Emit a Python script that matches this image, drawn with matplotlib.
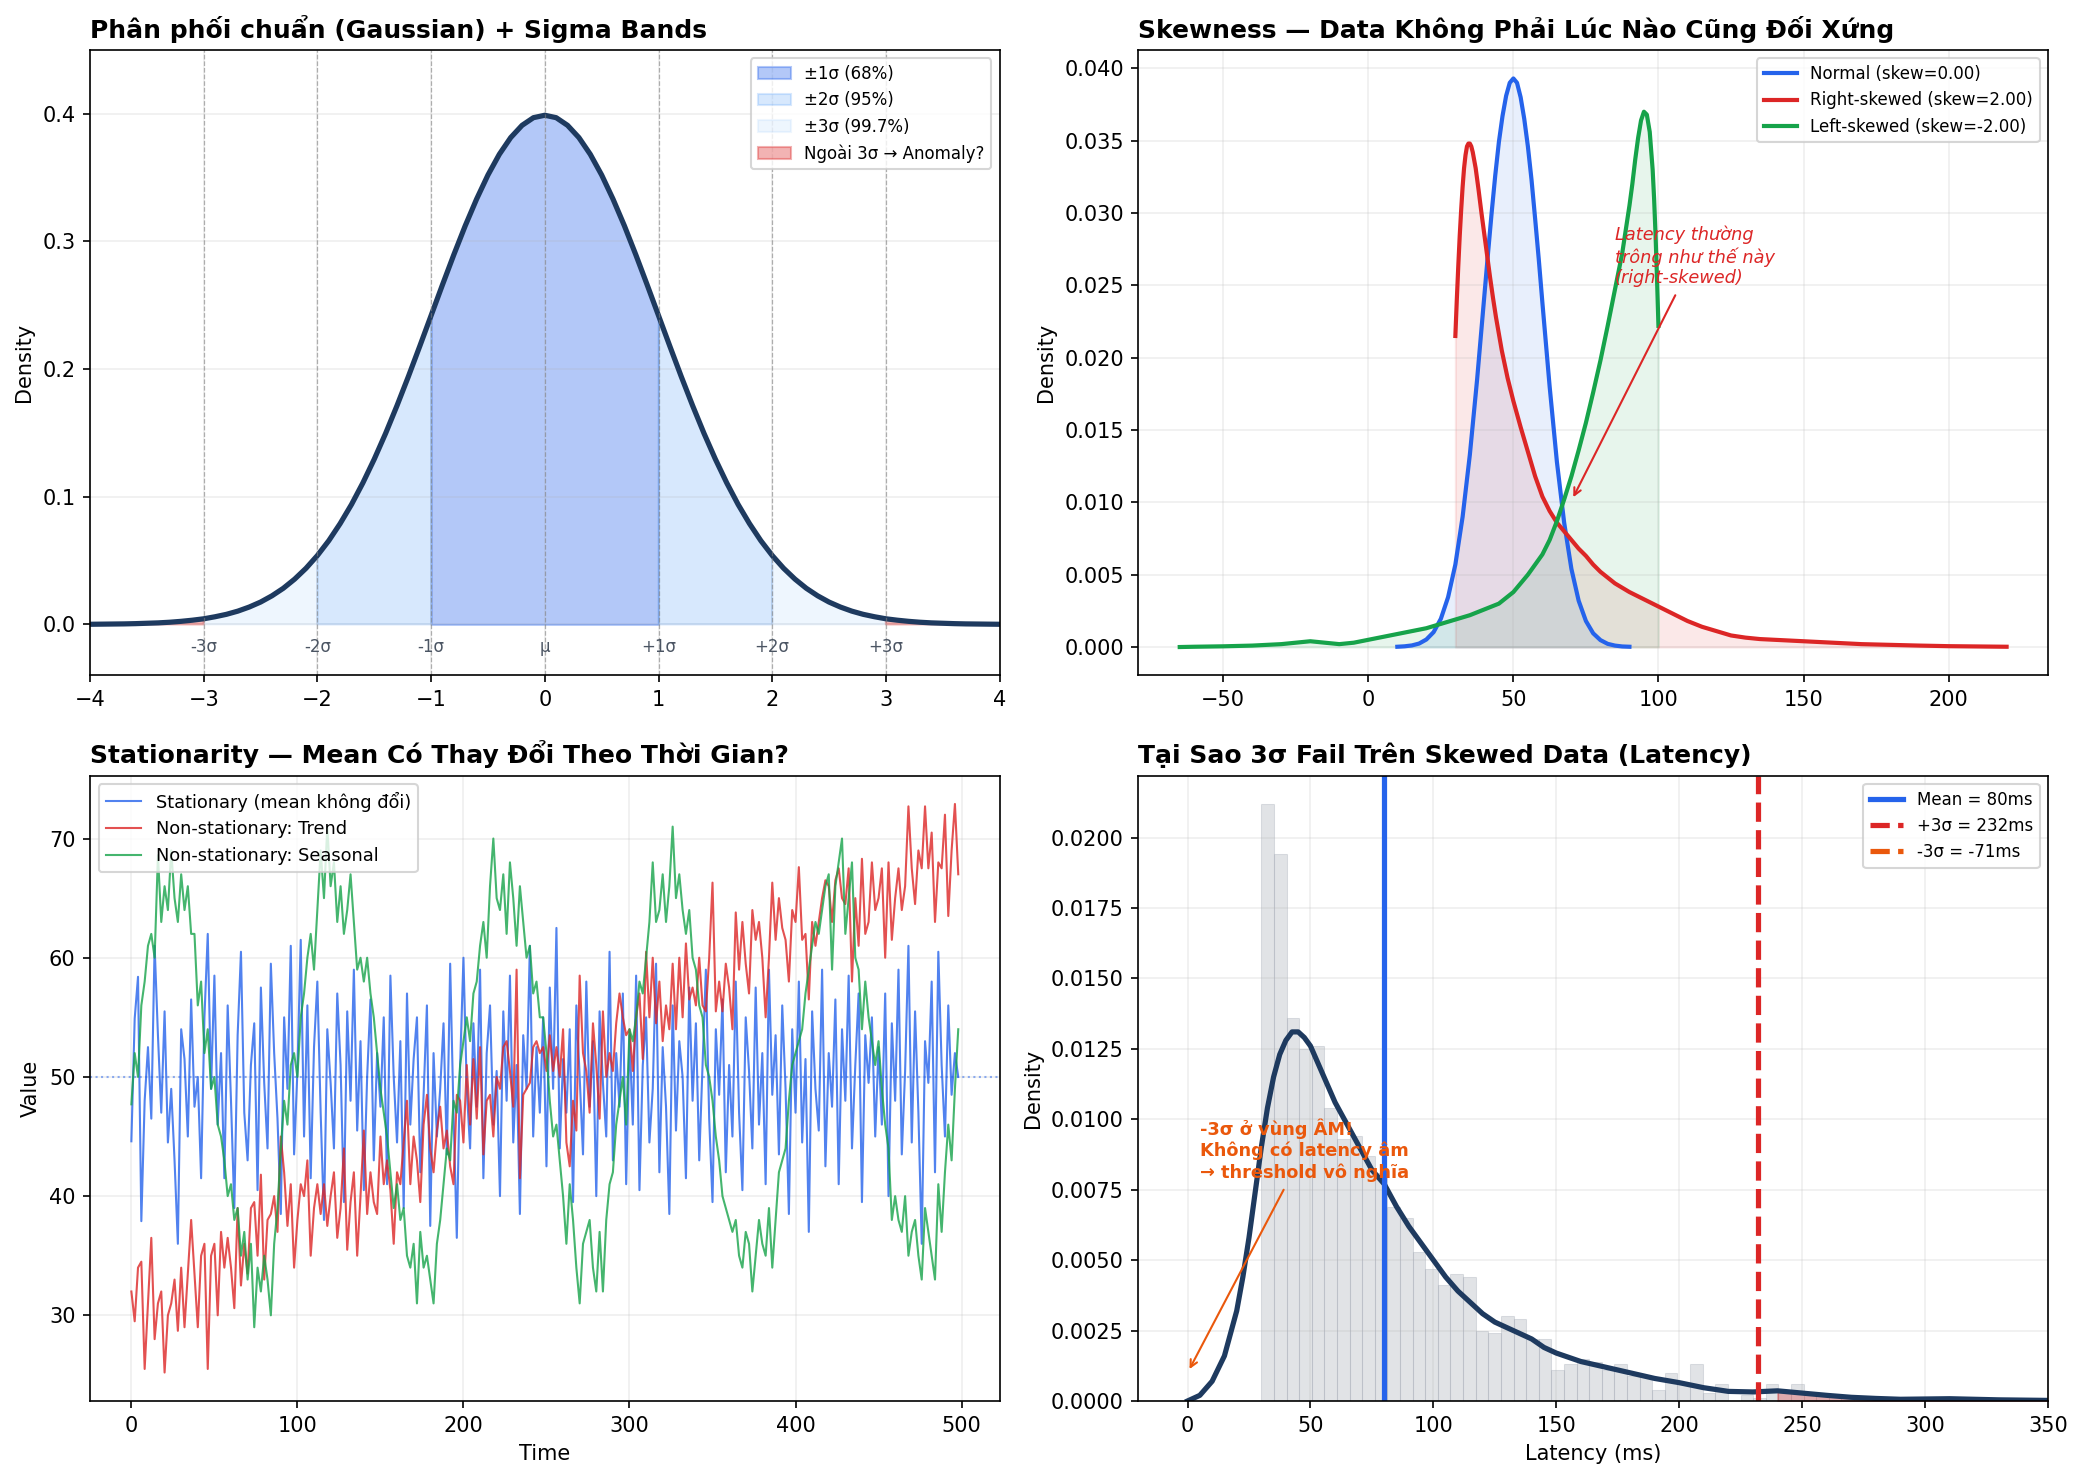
import numpy as np
import matplotlib
matplotlib.use("Agg")
import matplotlib.pyplot as plt

# ---------------- data ----------------
# panel 1: standard normal density, x = -4..4 step 0.1 (right half, mirrored)
gauss_half = [0.3989, 0.3970, 0.3910, 0.3814, 0.3683, 0.3521, 0.3332, 0.3123, 0.2897, 0.2661,
              0.2420, 0.2179, 0.1942, 0.1714, 0.1497, 0.1295, 0.1109, 0.0940, 0.0790, 0.0656,
              0.0540, 0.0440, 0.0355, 0.0283, 0.0224, 0.0175, 0.0136, 0.0104, 0.0079, 0.0060,
              0.0044, 0.0033, 0.0024, 0.0017, 0.0012, 0.0009, 0.0006, 0.0004, 0.0003, 0.0002,
              0.0001]
sigma_labels = ['-3σ', '-2σ', '-1σ', 'μ', '+1σ', '+2σ', '+3σ']
sigma_pos = [-3, -2, -1, 0, 1, 2, 3]

# panel 2: KDE curves
norm_x = [10, 12.5, 15, 17.5, 20, 22.5, 25, 27.5, 30, 32.5, 35, 37.5, 40, 41.25, 42.5, 43.75,
          45, 46.25, 47.5, 48.75, 50, 51.25, 52.5, 53.75, 55, 56.25, 57.5, 58.75, 60, 62.5, 65,
          67.5, 70, 72.5, 75, 77.5, 80, 82.5, 85, 87.5, 90]
norm_y = [0.00002, 0.00005, 0.00011, 0.00024, 0.00052, 0.00103, 0.00195, 0.00345, 0.0057, 0.0090,
          0.0133, 0.0185, 0.0243, 0.0272, 0.0300, 0.0326, 0.0349, 0.0367, 0.0381, 0.0390, 0.0393,
          0.0390, 0.0380, 0.0365, 0.0346, 0.0323, 0.0296, 0.0268, 0.0238, 0.0180, 0.0128,
          0.0086, 0.0054, 0.0032, 0.0018, 0.00095, 0.00048, 0.00022, 0.0001, 0.00004, 0.00002]
right_x = [30, 30.5, 31, 31.5, 32, 32.5, 33, 33.5, 34, 34.5, 35, 35.5, 36, 37, 38, 39, 40, 41, 42,
           43, 44, 46, 48, 50, 52.5, 55, 57.5, 60, 62.5, 65, 67.5, 70, 72.5, 75, 77.5, 80, 82.5,
           85, 87.5, 90, 95, 100, 105, 110, 115, 120, 125, 130, 135, 140, 145, 150, 160, 170,
           180, 190, 200, 210, 220]
right_y = [0.0215, 0.0240, 0.0263, 0.0284, 0.0302, 0.0318, 0.0331, 0.0340, 0.0346, 0.0348,
           0.0348, 0.0346, 0.0342, 0.0331, 0.0316, 0.0300, 0.0285, 0.0270, 0.0255, 0.0241,
           0.0228, 0.0205, 0.0186, 0.0170, 0.0152, 0.0135, 0.0118, 0.0104, 0.0094, 0.0086,
           0.0080, 0.0074, 0.0068, 0.0063, 0.0057, 0.0052, 0.0048, 0.0044, 0.0041, 0.0038,
           0.0033, 0.0028, 0.0023, 0.0018, 0.0014, 0.0011, 0.0008, 0.00065, 0.00055, 0.0005,
           0.00045, 0.0004, 0.0003, 0.0002, 0.00015, 0.0001, 0.00006, 0.00004, 0.00002]
left_x = [-65, -60, -50, -40, -30, -20, -15, -10, -5, 0, 5, 10, 15, 20, 25, 30, 35, 40, 45, 50,
          55, 60, 62.5, 65, 67.5, 70, 72.5, 75, 77.5, 80, 82.5, 85, 87.5, 90, 91, 92, 93, 94, 95,
          96, 97, 98, 98.5, 99, 99.5, 100]
left_y = [0.0, 0.00002, 0.00005, 0.0001, 0.0002, 0.0004, 0.0003, 0.0002, 0.0003, 0.0005, 0.0007,
          0.0009, 0.0011, 0.0013, 0.0016, 0.0019, 0.0022, 0.0026, 0.0030, 0.0038, 0.0050, 0.0064,
          0.0074, 0.0087, 0.0102, 0.0118, 0.0136, 0.0155, 0.0176, 0.0198, 0.0222, 0.0247, 0.0272,
          0.0305, 0.0320, 0.0337, 0.0352, 0.0364, 0.0370, 0.0368, 0.0356, 0.0330, 0.0310, 0.0285,
          0.0255, 0.0222]

# panel 3: time series, sampled every 2 steps
t = np.arange(0, 500, 2)
stationary = [
    44.6, 54.9, 58.4, 37.9, 48, 52.5, 46.5, 61, 53.5, 47, 55.5, 44.5, 49, 43, 36, 54, 51.5, 45, 56.5, 47.5, 50, 41.5, 55, 62, 49,
    58.5, 46, 52, 41.5, 56, 48, 39, 53.5, 60.5, 47, 43, 51, 54.5, 40.5, 57.5, 49.5, 44, 59.5, 52, 46.5, 38.5, 55, 49, 61, 43.5,
    50.5, 61.5, 45, 56, 41.5, 52.5, 58, 47, 38, 54, 49.5, 44, 57, 51, 39.5, 55.5, 48, 59, 45.5, 53, 40.5, 50, 56.5, 43, 52,
    47.5, 55, 41, 58.5, 50, 44.5, 53, 39, 57, 46, 51.5, 55, 42, 48.5, 56, 37.5, 52, 45, 49, 54.5, 43.5, 59.5, 47, 36.5, 51,
    60, 49, 44, 54.5, 47.5, 59, 41.5, 52, 56, 46, 50.5, 40, 55.5, 48, 58.5, 44.5, 51, 38.5, 53.5, 49, 61, 45, 52.5, 47, 55,
    42.5, 57.5, 49, 62.5, 44, 51.5, 47, 54, 39.5, 56, 50, 43.5, 58, 47.5, 53, 40, 55.5, 49.5, 45, 60.5, 43, 52, 47.5, 57, 41,
    53.5, 46, 58.5, 40.5, 51, 55, 44.5, 49, 59.5, 42, 52.5, 47.5, 38.5, 56, 45.5, 53, 50, 41.5, 57.5, 48, 54.5, 43, 51, 59, 46.5,
    39.5, 54, 48.5, 56.5, 42, 51, 45, 58, 47, 40.5, 55, 50.5, 44, 57.5, 46, 52, 41, 59, 48.5, 53.5, 43.5, 56, 49, 38.5, 54,
    47, 58, 44.5, 51.5, 37, 55.5, 49, 45.5, 59, 42.5, 52, 47.5, 56.5, 41, 54, 48, 58.5, 44, 51, 57, 39.5, 53.5, 49.5, 55, 45,
    52.5, 46, 57, 40, 54.5, 48, 59, 43.5, 50.5, 61, 44.5, 55.5, 47, 36, 53, 49.5, 58, 42, 60.5, 51, 45, 56, 48.5, 52, 50]
trend = [
    32, 29.5, 34, 34.5, 25.5, 31, 36.5, 28, 31, 32, 25.2, 30, 31, 33, 28.7, 34, 29, 33.5, 38, 33.5, 29, 35, 36, 25.5, 35,
    36, 30, 37, 34, 36.5, 34, 30.6, 39, 32.5, 36, 33.5, 39, 39.5, 35, 41.8, 33, 38, 38.5, 40, 37, 45, 42, 37.5, 41, 34,
    38, 41, 40, 43, 35, 39, 41, 38.5, 41, 37.5, 40, 42, 36.5, 39, 44, 35.5, 39.5, 42, 35, 40, 45.5, 38.5, 42, 39.5, 38.5,
    45, 41, 43, 40.5, 36, 42, 41, 44.5, 48, 41, 45, 43, 39.5, 46, 48.5, 44, 42, 45.5, 47.5, 44, 45.5, 42.5, 41, 48.5, 48,
    44.5, 51, 46, 51.5, 46.5, 52.5, 43.5, 48, 48.5, 45, 50, 49, 52.5, 53, 50.5, 47.5, 59, 41.5, 48.5, 49, 49.5, 52.5, 53, 52, 52.5,
    50.5, 53.5, 50.5, 52.5, 50, 54, 44.5, 42.5, 48, 45.5, 58.5, 52, 50.5, 47, 54.5, 51, 46.5, 55.5, 50, 52, 50.5, 54.5, 57, 55, 53.5,
    54, 50.5, 55, 57, 51.5, 60.5, 55, 60, 54.5, 58, 53, 56, 54, 59.5, 54, 60, 55, 61.2, 56.5, 57.5, 56, 60, 56, 55.5, 60,
    66.3, 55.5, 58, 55.5, 59.5, 57.5, 54, 63.8, 59, 63, 59.5, 57, 64, 61.5, 63, 60, 55, 60, 66.3, 61.5, 65, 62.5, 61.5, 58, 64,
    63, 67.6, 61.5, 62, 56.5, 63, 61, 63, 65, 66.5, 66, 63, 66.5, 67.5, 65, 64.5, 67.5, 58, 65, 61, 68.3, 62, 63, 68, 64,
    65, 67.5, 60, 68, 61.5, 65, 67.5, 64, 66, 72.7, 67.5, 64.5, 69, 67.5, 72.7, 67.5, 70.5, 63, 68, 67.5, 72, 63.5, 69, 72.9, 67]
seasonal = [
    47.7, 52, 50, 56, 58, 61, 62, 60, 68.6, 63, 66, 64, 69, 65, 63, 67, 64, 66, 62, 62, 56, 58, 52, 54, 49,
    50, 46, 45, 43, 40, 41, 38, 39, 35, 37, 33, 36, 29, 34, 32, 35, 33, 30, 36, 39, 44, 48, 46, 51, 52,
    50, 55, 57, 60, 62, 59, 64, 69, 65, 71, 66, 68, 63, 66, 62, 64, 67, 63, 59, 60, 58, 60, 57, 55, 52,
    49, 47, 45, 42, 39, 41, 38, 39, 35, 34, 36, 31, 37, 34, 35, 33, 31, 36, 38, 41, 44, 43, 48, 47, 51,
    53, 55, 53, 57, 58, 61, 63, 60, 66, 70, 65, 64, 67, 62, 68, 65, 61, 66, 63, 60, 61, 57, 58, 55, 55,
    52, 48, 45, 46, 43, 40, 36, 41, 38, 34, 31, 36, 37, 38, 34, 32, 37, 32, 38, 41, 42, 46, 48, 50, 46,
    54, 53, 55, 58, 57, 60, 63, 68, 63, 64, 67, 63, 66, 71, 65, 67, 64, 62, 64, 60, 59, 56, 55, 51, 50,
    48, 45, 43, 40, 39, 38, 37, 38, 35, 34, 37, 36, 32, 35, 38, 36, 35, 39, 34, 38, 42, 43, 44, 48, 51,
    52, 53, 54, 57, 59, 61, 63, 62, 64, 66, 67, 59, 66, 68, 70, 62, 65, 68, 60, 59, 54, 58, 55, 53, 51,
    53, 49, 46, 44, 38, 40, 38, 37, 40, 35, 37, 38, 35, 33, 39, 37, 35, 33, 41, 37, 42, 46, 43, 49, 54]

# panel 4: latency histogram (60 bins from 30 ms) and KDE
hist_heights = [0.0212, 0.0194, 0.0136, 0.0125, 0.0126, 0.0104, 0.0093, 0.0094, 0.0087, 0.0081,
                0.0069, 0.0065, 0.0053, 0.0047, 0.0041, 0.0045, 0.0044, 0.0025, 0.0024, 0.0030,
                0.0029, 0.0022, 0.0022, 0.0011, 0.0013, 0.0015, 0.0014, 0.0011, 0.0013, 0.0009,
                0.0009, 0.0004, 0.0010, 0.0006, 0.0013, 0.0003, 0.0006, 0.0, 0.0002, 0.0001,
                0.0006, 0.0003, 0.0006, 0.0003, 0.0002, 0.0002, 0.0001, 0.0001, 0.0, 0.0001,
                0.0001, 0.0, 0.0001, 0.0001, 0.0, 0.0, 0.0001, 0.0, 0.0, 0.0001]
hist_start, hist_end = 30, 337.8
kde_x = [0, 5, 10, 15, 20, 22.5, 25, 27.5, 30, 32.5, 35, 37.5, 40, 42.5, 45, 47.5, 50, 52.5, 55,
         57.5, 60, 65, 70, 75, 80, 85, 90, 95, 100, 105, 110, 115, 120, 125, 130, 135, 140, 145,
         150, 160, 170, 180, 190, 200, 210, 220, 230, 240, 250, 260, 270, 280, 290, 300, 310,
         320, 330, 340, 350]
kde_y = [0.0, 0.0002, 0.0007, 0.0016, 0.0032, 0.0044, 0.0058, 0.0074, 0.0090, 0.0104, 0.0115,
         0.0123, 0.0128, 0.0131, 0.0131, 0.0129, 0.0126, 0.0121, 0.0116, 0.0111, 0.0106, 0.0098,
         0.0090, 0.0082, 0.0077, 0.0069, 0.0062, 0.0056, 0.0050, 0.0044, 0.0039, 0.0035, 0.0031,
         0.0028, 0.0026, 0.0024, 0.0022, 0.0019, 0.0017, 0.0014, 0.0012, 0.0010, 0.0008, 0.00065,
         0.00047, 0.00034, 0.00032, 0.00036, 0.00028, 0.0002, 0.00013, 0.00009, 0.00006, 0.00007,
         0.00008, 0.00006, 0.00004, 0.00003, 0.00002]
lat_mean, lat_plus3, lat_minus3 = 80, 232, -71

NAVY = '#1e3a5f'
BLUE = '#2563eb'
RED = '#dc2626'
GREEN = '#16a34a'
ORANGE = '#ea580c'

fig, axes = plt.subplots(2, 2, figsize=(2084 / 150, 1480 / 150), dpi=150)
fig.subplots_adjust(left=0.0432, right=0.9827, top=0.9662, bottom=0.0534,
                    wspace=0.1526, hspace=0.16)

# ---------------- panel 1 ----------------
ax = axes[0, 0]
gx = np.round(np.arange(-40, 41) / 10, 1)
gy = np.array(gauss_half[::-1] + gauss_half[1:])
ax.fill_between(gx, gy, where=np.abs(gx) <= 1, color=BLUE, alpha=0.35, label='±1σ (68%)')
ax.fill_between(gx, gy, where=(np.abs(gx) >= 1) & (np.abs(gx) <= 2), color='#60a5fa', alpha=0.25,
                label='±2σ (95%)')
ax.fill_between(gx, gy, where=(np.abs(gx) >= 2) & (np.abs(gx) <= 3), color='#93c5fd', alpha=0.15,
                label='±3σ (99.7%)')
ax.fill_between(gx, gy, where=np.abs(gx) >= 3, color=RED, alpha=0.35, label='Ngoài 3σ → Anomaly?')
ax.plot(gx, gy, color=NAVY, lw=2.5)
for p, lab in zip(sigma_pos, sigma_labels):
    ax.axvline(p, color='gray', ls='--', lw=0.6, alpha=0.6)
    ax.text(p, -0.018, lab, ha='center', va='center', fontsize=8, color='#4b5563')
ax.set_xlim(-4, 4)
ax.set_ylim(-0.04, 0.45)
ax.set_ylabel('Density')
ax.set_title('Phân phối chuẩn (Gaussian) + Sigma Bands', loc='left', fontsize=12, fontweight='bold')
ax.legend(loc='upper right', fontsize=8)
ax.grid(alpha=0.2)

# ---------------- panel 2 ----------------
ax = axes[0, 1]
ax.plot(norm_x, norm_y, color=BLUE, lw=2, label='Normal (skew=0.00)')
ax.fill_between(norm_x, norm_y, color=BLUE, alpha=0.1)
ax.plot(right_x, right_y, color=RED, lw=2, label='Right-skewed (skew=2.00)')
ax.fill_between(right_x, right_y, color=RED, alpha=0.1)
ax.plot(left_x, left_y, color=GREEN, lw=2, label='Left-skewed (skew=-2.00)')
ax.fill_between(left_x, left_y, color=GREEN, alpha=0.1)
ax.annotate('Latency thường\ntrông như thế này\n(right-skewed)', xy=(70, 0.0101), xytext=(85, 0.0270),
            fontsize=8.5, color=RED, style='italic', ha='left', va='center',
            arrowprops=dict(arrowstyle='->', color=RED, lw=1))
ax.set_ylabel('Density')
ax.set_title('Skewness — Data Không Phải Lúc Nào Cũng Đối Xứng', loc='left', fontsize=12, fontweight='bold')
ax.legend(loc='upper right', fontsize=8)
ax.grid(alpha=0.2)

# ---------------- panel 3 ----------------
ax = axes[1, 0]
ax.plot(t, stationary, color=BLUE, lw=1, alpha=0.8, label='Stationary (mean không đổi)')
ax.plot(t, trend, color=RED, lw=1, alpha=0.8, label='Non-stationary: Trend')
ax.plot(t, seasonal, color=GREEN, lw=1, alpha=0.8, label='Non-stationary: Seasonal')
ax.axhline(50, color=BLUE, ls=':', lw=1, alpha=0.5)
ax.set_xlabel('Time')
ax.set_ylabel('Value')
ax.set_title('Stationarity — Mean Có Thay Đổi Theo Thời Gian?', loc='left', fontsize=12, fontweight='bold')
ax.legend(loc='upper left', fontsize=8.5)
ax.grid(alpha=0.2)

# ---------------- panel 4 ----------------
ax = axes[1, 1]
edges = np.linspace(hist_start, hist_end, len(hist_heights) + 1)
ax.bar(edges[:-1], hist_heights, width=np.diff(edges), align='edge', color='#9ca3af', alpha=0.3,
       edgecolor='#9ca3af', linewidth=0.5)
kx = np.array(kde_x)
ky = np.array(kde_y)
ax.plot(kx, ky, color=NAVY, lw=2.5)
ax.fill_between(kx, ky, where=kx >= lat_plus3, color=RED, alpha=0.3)
ax.axvline(lat_mean, color=BLUE, lw=2.5, label=f'Mean = {lat_mean}ms')
ax.axvline(lat_plus3, color=RED, lw=2.5, ls='--', label=f'+3σ = {lat_plus3}ms')
ax.axvline(lat_minus3, color=ORANGE, lw=2.5, ls='--', label=f'-3σ = {lat_minus3}ms')
ax.annotate('-3σ ở vùng ÂM!\nKhông có latency âm\n→ threshold vô nghĩa', xy=(0, 0.001), xytext=(5, 0.0089),
            fontsize=8.5, color=ORANGE, fontweight='bold', ha='left', va='center',
            arrowprops=dict(arrowstyle='->', color=ORANGE, lw=1))
ax.set_xlim(-20, 350)
ax.set_ylim(0, 0.0222)
ax.set_xlabel('Latency (ms)')
ax.set_ylabel('Density')
ax.set_title('Tại Sao 3σ Fail Trên Skewed Data (Latency)', loc='left', fontsize=12, fontweight='bold')
ax.legend(loc='upper right', fontsize=8)
ax.grid(alpha=0.2)

fig.savefig('out.png', dpi=150)
